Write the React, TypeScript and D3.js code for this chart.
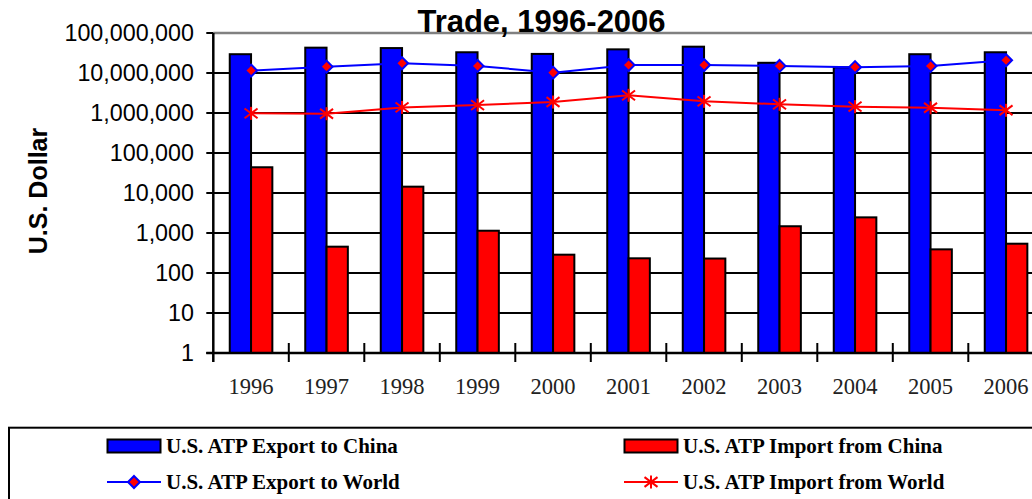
import React from "react";
import * as d3 from "d3";

const years = ["1996","1997","1998","1999","2000","2001","2002","2003","2004","2005","2006"];
const exportChina = [29500000, 43000000, 42000000, 33000000, 30000000, 39000000, 45500000, 18000000, 13900000, 29500000, 33000000];
const importChina = [44000, 455, 14400, 1140, 287, 233, 230, 1475, 2460, 390, 540];
const exportWorld = [11500000, 14400000, 17500000, 15000000, 10200000, 15800000, 15800000, 15000000, 14000000, 15000000, 20800000];
const importWorld = [980000, 960000, 1380000, 1580000, 1880000, 2770000, 1960000, 1650000, 1440000, 1350000, 1170000];
const yTicks = [1, 10, 100, 1000, 10000, 100000, 1000000, 10000000, 100000000];
const title = "Trade, 1996-2006";
const yLabel = "U.S. Dollar";
const legendItems = ["U.S. ATP Export to China", "U.S. ATP Import from China", "U.S. ATP Export to World", "U.S. ATP Import from World"];

const W = 1032, H = 499;
const plotLeft = 213.3, plotTop = 33, plotBottom = 353;
const catW = 75.5;
const plotRight = plotLeft + catW * years.length;
const barW = 21.3;
const sans = "'Liberation Sans', Arial, sans-serif";
const serif = "'Liberation Serif', 'Times New Roman', serif";

export default function App() {
  const x = d3.scaleBand<string>().domain(years).range([plotLeft, plotRight]).padding(0);
  const y = d3.scaleLog().domain([1, 1e8]).range([plotBottom, plotTop]);
  const cx = (yr: string) => (x(yr) as number) + x.bandwidth() / 2;
  const fmt = d3.format(",");
  const line = d3.line<number>().x((_, i) => cx(years[i])).y((v) => y(v));

  const star = (px: number, py: number, key: string, s = 6.5) => (
    <g key={key} stroke="#FF0000" strokeWidth={2}>
      <line x1={px} y1={py - s} x2={px} y2={py + s} />
      <line x1={px - s} y1={py - s * 0.75} x2={px + s} y2={py + s * 0.75} />
      <line x1={px - s} y1={py + s * 0.75} x2={px + s} y2={py - s * 0.75} />
    </g>
  );
  const diamond = (px: number, py: number, key: string, s = 6) => (
    <path key={key} d={`M${px},${py - s}L${px + s},${py}L${px},${py + s}L${px - s},${py}Z`} fill="#FF0000" stroke="#0000FF" strokeWidth={2} />
  );

  const boundaries = d3.range(years.length + 1).map((i) => plotLeft + i * catW);

  return (
    <svg width={W} height={H} style={{ position: "absolute", left: 0, top: 0, background: "#fff" }}>
      <rect x={0} y={0} width={W} height={H} fill="#fff" />
      {yTicks.slice(0, -1).map((t) => (
        <line key={"g" + t} x1={plotLeft} x2={plotRight} y1={y(t)} y2={y(t)} stroke="#000" strokeWidth={2} />
      ))}
      <line x1={plotLeft} x2={plotRight} y1={plotTop} y2={plotTop} stroke="#808080" strokeWidth={2.5} />
      {years.map((yr, i) => (
        <g key={"b" + yr}>
          <rect x={cx(yr) - barW} y={y(exportChina[i])} width={barW} height={plotBottom - y(exportChina[i])} fill="#0000FF" stroke="#000" strokeWidth={2} />
          <rect x={cx(yr)} y={y(importChina[i])} width={barW} height={plotBottom - y(importChina[i])} fill="#FF0000" stroke="#000" strokeWidth={2} />
        </g>
      ))}
      <line x1={plotLeft} x2={plotLeft} y1={plotTop} y2={plotBottom + 9} stroke="#000" strokeWidth={2.5} />
      <line x1={plotLeft - 7} x2={plotRight} y1={plotBottom} y2={plotBottom} stroke="#000" strokeWidth={2.5} />
      {yTicks.map((t) => (
        <g key={"yt" + t}>
          <line x1={plotLeft - 7} x2={plotLeft} y1={y(t)} y2={y(t)} stroke="#000" strokeWidth={2} />
          <text x={194} y={y(t)} dy="0.35em" textAnchor="end" fontFamily={sans} fontSize={23.3} fill="#000">{fmt(t)}</text>
        </g>
      ))}
      {boundaries.slice(1).map((bx, i) => (
        <line key={"xt" + i} x1={bx} x2={bx} y1={plotBottom - 10} y2={plotBottom + 9} stroke="#000" strokeWidth={2} />
      ))}
      {years.map((yr) => (
        <text key={"xl" + yr} x={cx(yr)} y={394} textAnchor="middle" fontFamily={serif} fontSize={22.5} fill="#222">{yr}</text>
      ))}
      <path d={line(exportWorld) || ""} fill="none" stroke="#0000FF" strokeWidth={2} />
      <path d={line(importWorld) || ""} fill="none" stroke="#FF0000" strokeWidth={2} />
      {exportWorld.map((v, i) => diamond(cx(years[i]), y(v), "d" + i))}
      {importWorld.map((v, i) => star(cx(years[i]), y(v), "s" + i))}
      <text x={541.5} y={31.5} textAnchor="middle" fontFamily={sans} fontWeight="bold" fontSize={31} fill="#000">{title}</text>
      <text transform="translate(46.5,191) rotate(-90)" textAnchor="middle" fontFamily={sans} fontWeight="bold" fontSize={25} fill="#000">{yLabel}</text>
      <rect x={9} y={427.7} width={1100} height={200} fill="#fff" stroke="#000" strokeWidth={2} />
      <rect x={107.5} y={439.5} width={53} height={13} fill="#0000FF" stroke="#000" strokeWidth={2} />
      <text x={166} y={453} fontFamily={serif} fontWeight="bold" fontSize={21} fill="#000">{legendItems[0]}</text>
      <rect x={624.5} y={439.5} width={53} height={13} fill="#FF0000" stroke="#000" strokeWidth={2} />
      <text x={683} y={453} fontFamily={serif} fontWeight="bold" fontSize={21} fill="#000">{legendItems[1]}</text>
      <line x1={107} x2={161} y1={482} y2={482} stroke="#0000FF" strokeWidth={2} />
      {diamond(134, 482, "ld")}
      <text x={166} y={489} fontFamily={serif} fontWeight="bold" fontSize={21} fill="#000">{legendItems[2]}</text>
      <line x1={624} x2={678} y1={482} y2={482} stroke="#FF0000" strokeWidth={2} />
      {star(651, 482, "ls")}
      <text x={683} y={489} fontFamily={serif} fontWeight="bold" fontSize={21} fill="#000">{legendItems[3]}</text>
    </svg>
  );
}
